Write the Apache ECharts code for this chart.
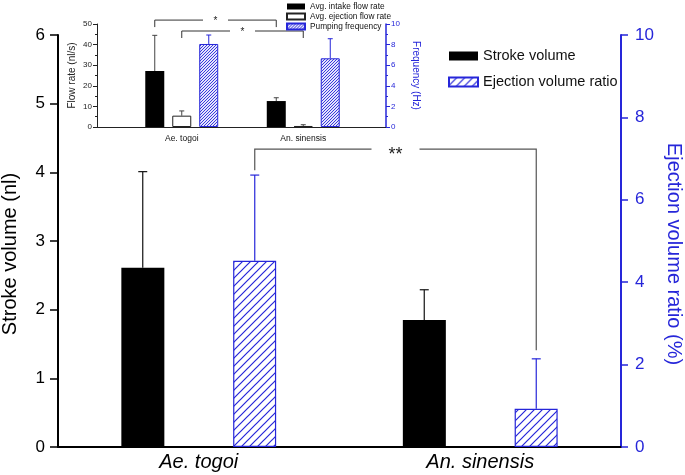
<!DOCTYPE html>
<html>
<head>
<meta charset="utf-8">
<script src="https://cdn.jsdelivr.net/npm/echarts@6/dist/echarts.min.js"></script>
<style>
html, body { margin: 0; padding: 0; background: #fff; }
#chart { width: 685px; height: 475px; }
</style>
</head>
<body>
<div id="chart"></div>
<script>
var species = ['Ae. togoi', 'An. sinensis'];

// main chart: mean and SD (upper error bar only)
var strokeVolume = [2.61, 1.85];
var strokeVolumeSd = [1.40, 0.44];
var ejectionRatio = [4.52, 0.93];
var ejectionRatioSd = [2.08, 1.21];

// inset chart
var intakeRate = [27.2, 12.6];
var intakeRateSd = [17.3, 1.6];
var ejectionRate = [5.5, 0.5];
var ejectionRateSd = [2.3, 0.6];
var pumpFreq = [8.06, 6.67];
var pumpFreqSd = [0.87, 1.9];

// significance brackets: [fromCat, fromBar, toCat, toBar, level, fromEnd, toEnd]
var mainBrackets = [[0, 1, 1, 1, 7.23, 6.72, 2.35]];
var insetBrackets = [[0, 0, 1, 0, 51.9, 48.5, 48.5], [0, 1, 1, 1, 46.6, 43.2, 43.2]];

var BLUE = '#2626d9';
var FONT = '"Liberation Sans", Arial, sans-serif';

// bar centre offsets from category centre (px)
var mainOff = [-56, 56];
var insetOff = [-27, 0, 27];

// diagonal hatch "/" as a canvas pattern
function hatch(size, bg, fg, lw) {
    var c = document.createElement('canvas');
    c.width = size; c.height = size;
    var ctx = c.getContext('2d');
    ctx.fillStyle = bg;
    ctx.fillRect(0, 0, size, size);
    ctx.strokeStyle = fg;
    ctx.lineWidth = lw;
    ctx.beginPath();
    ctx.moveTo(0, size); ctx.lineTo(size, 0);
    ctx.moveTo(-size / 2, size / 2); ctx.lineTo(size / 2, -size / 2);
    ctx.moveTo(size / 2, size * 1.5); ctx.lineTo(size * 1.5, size / 2);
    ctx.stroke();
    return { image: c, repeat: 'repeat' };
}

function errBar(off, cap, color, lw) {
    return function (params, api) {
        var p0 = api.coord([api.value(0), api.value(1)]);
        var p1 = api.coord([api.value(0), api.value(2)]);
        var cx = p0[0] + off;
        var st = { stroke: color, lineWidth: lw };
        return {
            type: 'group',
            children: [
                { type: 'line', shape: { x1: cx, y1: p0[1], x2: cx, y2: p1[1] }, style: st },
                { type: 'line', shape: { x1: cx - cap / 2, y1: p1[1], x2: cx + cap / 2, y2: p1[1] }, style: st }
            ]
        };
    };
}

function bracket(offs, gapHalf, label, fontSize, color, lw, labelDy) {
    return function (params, api) {
        var a = api.coord([api.value(0), api.value(4)]);
        var b = api.coord([api.value(2), api.value(4)]);
        var x0 = a[0] + offs[api.value(1)];
        var x1 = b[0] + offs[api.value(3)];
        var y = a[1];
        var y0 = api.coord([api.value(0), api.value(5)])[1];
        var y1 = api.coord([api.value(2), api.value(6)])[1];
        var mid = (x0 + x1) / 2;
        var st = { stroke: color, lineWidth: lw, fill: null };
        return {
            type: 'group',
            children: [
                { type: 'polyline', shape: { points: [[x0, y0], [x0, y], [mid - gapHalf, y]] }, style: st },
                { type: 'polyline', shape: { points: [[mid + gapHalf, y], [x1, y], [x1, y1]] }, style: st },
                { type: 'text', style: { text: label, x: mid, y: y + labelDy, align: 'center', verticalAlign: 'middle',
                    font: fontSize + 'px ' + FONT, fill: '#222' } }
            ]
        };
    };
}

function errData(mean, sd) {
    return species.map(function (s, i) { return [i, mean[i], mean[i] + sd[i]]; });
}

var myChart = echarts.init(document.getElementById('chart'));

var option = {
    animation: false,
    textStyle: { fontFamily: FONT },
    legend: [
        {
            data: ['Stroke volume', 'Ejection volume ratio'],
            orient: 'vertical', left: 443, top: 43,
            itemWidth: 29, itemHeight: 9, itemGap: 10,
            icon: 'rect', selectedMode: false,
            textStyle: { fontSize: 14.5, color: '#111', lineHeight: 16 }
        },
        {
            data: ['Avg. intake flow rate', 'Avg. ejection flow rate', 'Pumping frequency'],
            orient: 'vertical', left: 281, top: -3,
            itemWidth: 18, itemHeight: 6, itemGap: 1,
            icon: 'rect', selectedMode: false,
            textStyle: { fontSize: 8.3, color: '#111', lineHeight: 9 }
        }
    ],
    grid: [
        { left: 58, right: 64, top: 35, bottom: 28, outerBoundsMode: 'none' },
        { left: 121, right: 321, top: 24, bottom: 348, outerBoundsMode: 'none' },
        { left: 97, right: 299, top: 24, bottom: 348, outerBoundsMode: 'none' }
    ],
    xAxis: [
        {
            gridIndex: 0, type: 'category', data: species,
            axisLine: { lineStyle: { color: '#000', width: 2 } },
            axisTick: { alignWithLabel: true, length: 8, lineStyle: { color: '#000', width: 1.5 } },
            axisLabel: { fontSize: 20, fontStyle: 'italic', color: '#000', margin: 5 }
        },
        {
            gridIndex: 1, type: 'category', data: species,
            axisLine: { show: false }, axisTick: { show: false },
            axisLabel: { fontSize: 8.5, color: '#111', margin: 7 }
        },
        {
            gridIndex: 2, type: 'category', data: [''],
            axisLine: { lineStyle: { color: '#222', width: 1 } },
            axisTick: { show: false }, axisLabel: { show: false }
        }
    ],
    yAxis: [
        {
            gridIndex: 0, type: 'value', min: 0, max: 6, interval: 1,
            name: 'Stroke volume (nl)', nameLocation: 'middle', nameGap: 38, nameMoveOverlap: false,
            nameTextStyle: { fontSize: 20, color: '#000', padding: [0, 26, 0, 0] },
            axisLine: { show: true, lineStyle: { color: '#000', width: 2 } },
            axisTick: { show: true, length: 8, lineStyle: { color: '#000', width: 1.5 } },
            axisLabel: { fontSize: 17, color: '#000', margin: 13 },
            splitLine: { show: false }
        },
        {
            gridIndex: 0, type: 'value', position: 'right', min: 0, max: 10, interval: 2,
            name: 'Ejection volume ratio (%)', nameLocation: 'middle', nameRotate: -90, nameGap: 43, nameMoveOverlap: false,
            nameTextStyle: { fontSize: 20, color: BLUE, padding: [0, 0, 0, 26] },
            axisLine: { show: true, lineStyle: { color: BLUE, width: 2 } },
            axisTick: { show: true, length: 7, lineStyle: { color: BLUE, width: 1.5 } },
            axisLabel: { fontSize: 17, color: BLUE, margin: 14 },
            splitLine: { show: false }
        },
        {
            gridIndex: 1, type: 'value', min: 0, max: 50, interval: 10, offset: 24,
            name: 'Flow rate (nl/s)', nameLocation: 'middle', nameGap: 20, nameMoveOverlap: false,
            nameTextStyle: { fontSize: 10, color: '#222' },
            axisLine: { show: true, lineStyle: { color: '#222', width: 1 } },
            axisTick: { show: true, length: 4, lineStyle: { color: '#222' } },
            minorTick: { show: true, splitNumber: 2, length: 2, lineStyle: { color: '#222' } },
            axisLabel: { fontSize: 8, color: '#222', margin: 5 },
            splitLine: { show: false }
        },
        {
            gridIndex: 1, type: 'value', position: 'right', min: 0, max: 10, interval: 2, offset: 22,
            name: 'Frequency (Hz)', nameLocation: 'middle', nameRotate: -90, nameGap: 25, nameMoveOverlap: false,
            nameTextStyle: { fontSize: 10, color: BLUE },
            axisLine: { show: true, lineStyle: { color: BLUE, width: 1.5 } },
            axisTick: { show: true, length: 4, lineStyle: { color: BLUE } },
            minorTick: { show: true, splitNumber: 2, length: 2, lineStyle: { color: BLUE } },
            axisLabel: { fontSize: 8, color: BLUE, margin: 5 },
            splitLine: { show: false }
        },
        { gridIndex: 2, type: 'value', show: false }
    ],
    series: [
        {
            name: 'Stroke volume', type: 'bar', xAxisIndex: 0, yAxisIndex: 0,
            data: strokeVolume, barWidth: 43, barGap: '160%',
            itemStyle: { color: '#000' }
        },
        {
            name: 'Ejection volume ratio', type: 'bar', xAxisIndex: 0, yAxisIndex: 1,
            data: ejectionRatio, barWidth: 43, barGap: '160%',
            itemStyle: { color: hatch(8, '#fff', BLUE, 1.2), borderColor: BLUE, borderWidth: 1.2 }
        },
        {
            type: 'custom', xAxisIndex: 0, yAxisIndex: 0, silent: true,
            data: errData(strokeVolume, strokeVolumeSd),
            renderItem: errBar(mainOff[0], 9, '#111', 1.2)
        },
        {
            type: 'custom', xAxisIndex: 0, yAxisIndex: 1, silent: true,
            data: errData(ejectionRatio, ejectionRatioSd),
            renderItem: errBar(mainOff[1], 9, BLUE, 1.2)
        },
        {
            type: 'custom', xAxisIndex: 0, yAxisIndex: 1, silent: true, clip: false,
            data: mainBrackets,
            renderItem: bracket(mainOff, 24, '**', 18, '#555', 1.2, 6)
        },
        // inset
        {
            name: 'Avg. intake flow rate', type: 'bar', xAxisIndex: 1, yAxisIndex: 2,
            data: intakeRate, barWidth: 19, barGap: '42%',
            itemStyle: { color: '#000' }
        },
        {
            name: 'Avg. ejection flow rate', type: 'bar', xAxisIndex: 1, yAxisIndex: 2,
            data: ejectionRate, barWidth: 19, barGap: '42%',
            itemStyle: { color: '#fff', borderColor: '#222', borderWidth: 1 }
        },
        {
            name: 'Pumping frequency', type: 'bar', xAxisIndex: 1, yAxisIndex: 3,
            data: pumpFreq, barWidth: 19, barGap: '42%',
            itemStyle: { color: hatch(3, '#e4e4fb', BLUE, 0.9), borderColor: BLUE, borderWidth: 1 }
        },
        {
            type: 'custom', xAxisIndex: 1, yAxisIndex: 2, silent: true,
            data: errData(intakeRate, intakeRateSd),
            renderItem: errBar(insetOff[0], 5, '#444', 1)
        },
        {
            type: 'custom', xAxisIndex: 1, yAxisIndex: 2, silent: true,
            data: errData(ejectionRate, ejectionRateSd),
            renderItem: errBar(insetOff[1], 5, '#444', 1)
        },
        {
            type: 'custom', xAxisIndex: 1, yAxisIndex: 3, silent: true,
            data: errData(pumpFreq, pumpFreqSd),
            renderItem: errBar(insetOff[2], 5, BLUE, 1)
        },
        {
            type: 'custom', xAxisIndex: 1, yAxisIndex: 2, silent: true, clip: false,
            data: insetBrackets,
            renderItem: bracket(insetOff, 12.5, '*', 10, '#333', 1, 1)
        }
    ]
};

myChart.setOption(option);
</script>
</body>
</html>
